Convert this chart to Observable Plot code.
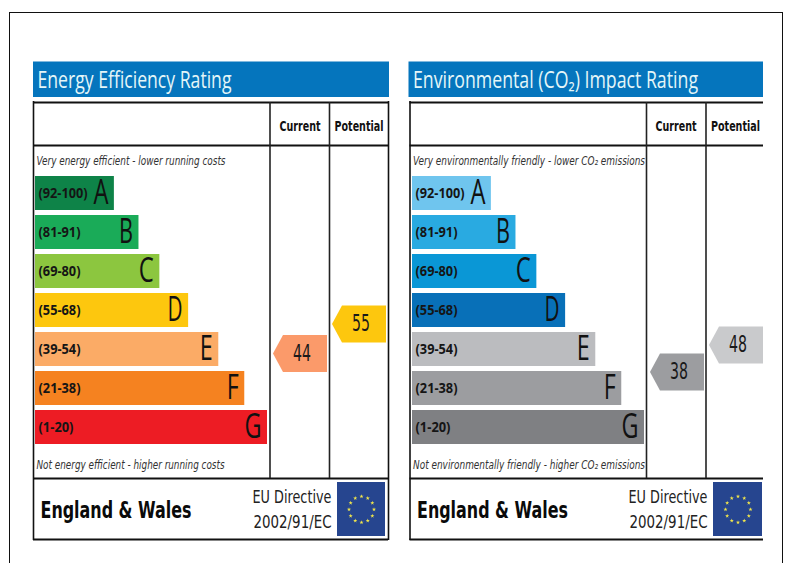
<!DOCTYPE html>
<html>
<head>
<meta charset="utf-8">
<script src="https://cdn.jsdelivr.net/npm/d3@7"></script>
<script src="https://cdn.jsdelivr.net/npm/@observablehq/plot@0.6"></script>
<style>
html,body{margin:0;padding:0;background:#fff;overflow:hidden}
#page{position:relative;width:787px;height:563px;overflow:hidden}
#page svg{position:absolute;left:0;top:0;background:transparent}
#frame{position:absolute;left:9px;top:12px;width:772px;height:600px;border:1.5px solid #111}
</style>
</head>
<body>
<div id="page"><div id="frame"></div></div>
<script>
// ---- data ----
const letters = ["A","B","C","D","E","F","G"];
const ranges = ["(92-100)","(81-91)","(69-80)","(55-68)","(39-54)","(21-38)","(1-20)"];
// bar length relative to the longest bar (G = 100)
const barLengths = [34,44.6,53.6,66,79,90.2,100];
const energyColors = ["#0e8348","#1aab58","#8cc63f","#fdc70e","#fbab66","#f58220","#ed1c24"];
const co2Colors = ["#6fc5ee","#29aae1","#0a97d6","#0870b8","#bbbcbf","#9c9da0","#7f8083"];
const columns = ["Current","Potential"];
const energyScores = [44,55];
const energyArrowColors = ["#fb9a6a","#fdc70e"];
const co2Scores = [38,48];
const co2ArrowColors = ["#9c9da0","#c9cacc"];
const titles = ["Energy Efficiency Rating","Environmental (CO\u2082) Impact Rating"];
const topNotes = ["Very energy efficient - lower running costs","Very environmentally friendly - lower CO\u2082 emissions"];
const bottomNotes = ["Not energy efficient - higher running costs","Not environmentally friendly - higher CO\u2082 emissions"];
const region = "England & Wales";
const directive = ["EU Directive","2002/91/EC"];
const starClock = [0,1,2,3,4,5,6,7,8,9,10,11];

// target printed widths (the artwork is horizontally condensed)
const printedWidth = new Map([
  ["Energy Efficiency Rating",194],["Environmental (CO\u2082) Impact Rating",285],
  ["Current",41],["Potential",49],
  [topNotes[0],189],[bottomNotes[0],188],[topNotes[1],232],[bottomNotes[1],232],
  [region,151],["EU Directive",79],["2002/91/EC",78],
  ["(92-100)",49],["(81-91)",42],["(69-80)",42],["(55-68)",42],["(39-54)",42],["(21-38)",42],["(1-20)",35],
  ["A",15],["B",14],["C",15],["D",15],["E",13],["F",12],["G",17],
  ["44",18],["55",18],["38",18],["48",18]
]);

const W = 787, H = 563;
const page = document.getElementById("page");
const sans = "'DejaVu Sans', sans-serif";
const condensed = "'Open Sans', sans-serif";

function mount(plot){
  page.appendChild(plot);
  plot.querySelectorAll("text").forEach(t => {
    const w = printedWidth.get(t.textContent);
    if (w) { t.setAttribute("textLength", w); t.setAttribute("lengthAdjust", "spacingAndGlyphs"); }
  });
}

// arrow-shaped dot symbol: blunt on the right, pointed on the left
const arrowSymbol = {
  draw(ctx, size){
    const r = Math.sqrt(size / Math.PI), h = r * 0.685, n = r * 0.63;
    ctx.moveTo(-r, 0); ctx.lineTo(-n, -h); ctx.lineTo(r, -h); ctx.lineTo(r, h); ctx.lineTo(-n, h); ctx.closePath();
  }
};

function panel(o){
  const L = o.left, R = o.right, c1 = o.col1, c2 = o.col2;
  const pixel = {x:{domain:[0,W],range:[0,W],axis:null},y:{domain:[0,H],range:[0,H],axis:null}};
  const ink = "#111";
  // page furniture
  mount(Plot.plot({
    width:W,height:H,margin:0,...pixel,
    style:{background:"transparent",fontFamily:sans},
    marks:[
      Plot.rect([o.title],{x1:o.bandL,x2:o.bandR,y1:61.5,y2:97,fill:"#0575bd"}),
      Plot.text([o.title],{x:o.bandL+4,y:80,text:d=>d,textAnchor:"start",lineAnchor:"middle",fontSize:23,fontFamily:condensed,fill:"#e4f6f8"}),
      Plot.ruleY([102,145,478,539],{x1:L,x2:R,stroke:ink,strokeWidth:2}),
      Plot.ruleX([L],{y1:101,y2:540,stroke:ink,strokeWidth:1.6}),
      o.closed ? Plot.ruleX([R],{y1:101,y2:540,stroke:ink,strokeWidth:1.6}) : null,
      Plot.ruleX([c1,c2],{y1:102,y2:478,stroke:"#222",strokeWidth:1.6}),
      Plot.text(columns,{x:d=>d==="Current"?o.head1:o.head2,y:126,text:d=>d,fontSize:14,fontWeight:"bold",lineAnchor:"middle",fill:"#111"}),
      Plot.text([o.top],{x:o.noteX,y:160.5,text:d=>d,textAnchor:"start",lineAnchor:"middle",fontSize:12,fontStyle:"italic",fill:"#333"}),
      Plot.text([o.bottom],{x:o.noteX,y:465,text:d=>d,textAnchor:"start",lineAnchor:"middle",fontSize:12,fontStyle:"italic",fill:"#333"}),
      Plot.text([region],{x:L+7,y:510,text:d=>d,textAnchor:"start",lineAnchor:"middle",fontSize:23,fontWeight:"bold",fill:"#0a0a0a"}),
      Plot.text(directive,{x:o.dirR,y:(d,i)=>i?521.5:497,text:d=>d,textAnchor:"end",lineAnchor:"middle",fontSize:18,fill:"#222"}),
      Plot.rect([0],{x1:o.flagL,x2:o.flagR,y1:482,y2:536,fill:"#26458f"}),
      Plot.dot(starClock,{
        x:h=>(o.flagL+o.flagR)/2+12.5*Math.sin(h*Math.PI/6),
        y:h=>509-13*Math.cos(h*Math.PI/6),
        symbol:"star",r:1.3,fill:"#f4e84a",stroke:null
      })
    ]
  }));
  // rating bars
  const rows = letters.map((letter,i)=>({letter,range:ranges[i],length:barLengths[i],color:o.colors[i]}));
  mount(Plot.plot({
    width:W,height:H,margin:0,
    x:{domain:[0,100],range:[o.barL,o.barL+232],axis:null},
    y:{type:"band",domain:letters,range:[175,444],paddingInner:0.133,paddingOuter:0,axis:null},
    style:{background:"transparent",fontFamily:sans},
    marks:[
      Plot.barX(rows,{x:"length",y:"letter",fill:"color"}),
      Plot.text(rows,{x:0,y:"letter",text:"range",textAnchor:"start",dx:3,fontSize:15,fontFamily:condensed,fontWeight:"bold",lineAnchor:"middle",fill:"#151515"}),
      Plot.text(rows,{x:"length",y:"letter",text:"letter",textAnchor:"end",dx:-6,fontSize:34,fontFamily:condensed,lineAnchor:"middle",fill:"#111"})
    ]
  }));
  // current / potential arrows, placed by score
  const arrows = columns.map((column,i)=>({column,score:o.scores[i],color:o.arrowColors[i]}));
  mount(Plot.plot({
    width:W,height:H,margin:0,
    x:{type:"band",domain:columns,range:[c1,o.colsEnd],padding:0,axis:null},
    y:{domain:[1,100],range:o.scoreRange,axis:null},
    style:{background:"transparent",fontFamily:sans},
    marks:[
      Plot.dot(arrows,{x:"column",y:"score",symbol:arrowSymbol,r:27,fill:"color",stroke:null}),
      Plot.text(arrows,{x:"column",y:"score",text:"score",dx:2,fontSize:23,lineAnchor:"middle",fill:"#1a1a1a"})
    ]
  }));
}

panel({title:titles[0],top:topNotes[0],bottom:bottomNotes[0],bandL:33,bandR:389,
  left:33,right:388,closed:true,col1:269.5,col2:329,colsEnd:388,head1:299.5,head2:358.5,noteX:36,dirR:331,flagL:337,flagR:385,
  barL:35,colors:energyColors,scores:energyScores,arrowColors:energyArrowColors,scoreRange:[468,203]});
panel({title:titles[1],top:topNotes[1],bottom:bottomNotes[1],bandL:408.5,bandR:763,
  left:409.5,right:763,closed:false,col1:646,col2:705.5,colsEnd:765,head1:675.5,head2:735,noteX:412.5,dirR:707,flagL:713,flagR:762,
  barL:412,colors:co2Colors,scores:co2Scores,arrowColors:co2ArrowColors,scoreRange:[471.4,204.1]});
</script>
</body>
</html>
